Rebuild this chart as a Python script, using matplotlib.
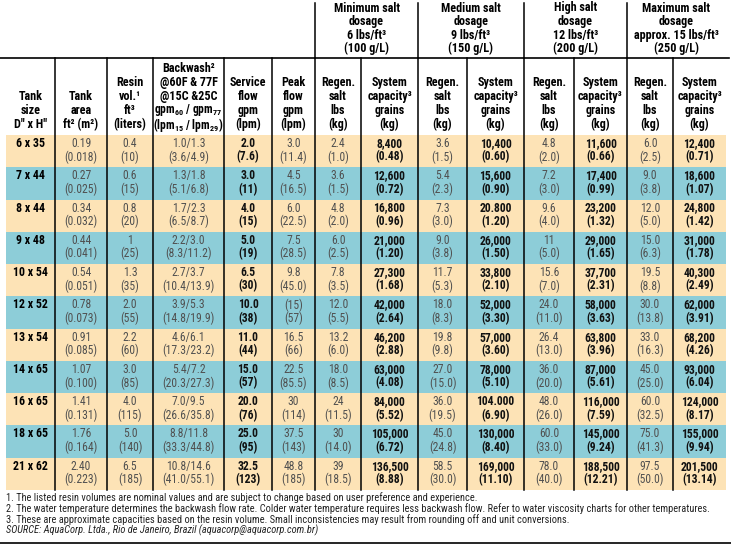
import matplotlib
matplotlib.use('Agg')
import matplotlib.pyplot as plt
from matplotlib import font_manager

# -- pick a condensed family that has a bold face
fl = font_manager.fontManager.ttflist
wanted = ['Roboto Condensed', 'Archivo Narrow', 'PT Sans Narrow', 'Pragati Narrow',
          'Barlow Semi Condensed', 'Asap Condensed', 'Liberation Sans']
narrow = 'DejaVu Sans'
for name in wanted:
    w = [f.weight for f in fl if f.name == name]
    if any((isinstance(x, int) and x >= 600) or x == 'bold' for x in w):
        narrow = name
        break
plt.rcParams['font.family'] = [narrow, 'DejaVu Sans']
plt.rcParams['mathtext.fontset'] = 'custom'
plt.rcParams['mathtext.default'] = 'regular'

# -- data
tank_size = ['6 x 35', '7 x 44', '8 x 44', '9 x 48', '10 x 54', '12 x 52',
             '13 x 54', '14 x 65', '16 x 65', '18 x 65', '21 x 62']
tank_area = [('0.19', '(0.018)'), ('0.27', '(0.025)'), ('0.34', '(0.032)'), ('0.44', '(0.041)'),
             ('0.54', '(0.051)'), ('0.78', '(0.073)'), ('0.91', '(0.085)'), ('1.07', '(0.100)'),
             ('1.41', '(0.131)'), ('1.76', '(0.164)'), ('2.40', '(0.223)')]
resin_vol = [('0.4', '(10)'), ('0.6', '(15)'), ('0.8', '(20)'), ('1', '(25)'), ('1.3', '(35)'),
             ('2.0', '(55)'), ('2.2', '(60)'), ('3.0', '(85)'), ('4.0', '(115)'), ('5.0', '(140)'),
             ('6.5', '(185)')]
backwash = [('1.0/1.3', '(3.6/4.9)'), ('1.3/1.8', '(5.1/6.8)'), ('1.7/2.3', '(6.5/8.7)'),
            ('2.2/3.0', '(8.3/11.2)'), ('2.7/3.7', '(10.4/13.9)'), ('3.9/5.3', '(14.8/19.9)'),
            ('4.6/6.1', '(17.3/23.2)'), ('5.4/7.2', '(20.3/27.3)'), ('7.0/9.5', '(26.6/35.8)'),
            ('8.8/11.8', '(33.3/44.8)'), ('10.8/14.6', '(41.0/55.1)')]
service_flow = [('2.0', '(7.6)'), ('3.0', '(11)'), ('4.0', '(15)'), ('5.0', '(19)'), ('6.5', '(30)'),
                ('10.0', '(38)'), ('11.0', '(44)'), ('15.0', '(57)'), ('20.0', '(76)'),
                ('25.0', '(95)'), ('32.5', '(123)')]
peak_flow = [('3.0', '(11.4)'), ('4.5', '(16.5)'), ('6.0', '(22.5)'), ('7.5', '(28.5)'),
             ('9.8', '(45.0)'), ('(15)', '(57)'), ('16.5', '(66)'), ('22.5', '(85.5)'),
             ('30', '(114)'), ('37.5', '(143)'), ('48.8', '(185)')]
min_salt = [('2.4', '(1.0)'), ('3.6', '(1.5)'), ('4.8', '(2.0)'), ('6.0', '(2.5)'), ('7.8', '(3.5)'),
            ('12.0', '(5.5)'), ('13.2', '(6.0)'), ('18.0', '(8.5)'), ('24', '(11.5)'),
            ('30', '(14.0)'), ('39', '(18.5)')]
min_cap = [('8,400', '(0.48)'), ('12,600', '(0.72)'), ('16,800', '(0.96)'), ('21,000', '(1.20)'),
           ('27,300', '(1.68)'), ('42,000', '(2.64)'), ('46,200', '(2.88)'), ('63,000', '(4.08)'),
           ('84,000', '(5.52)'), ('105,000', '(6.72)'), ('136,500', '(8.88)')]
med_salt = [('3.6', '(1.5)'), ('5.4', '(2.3)'), ('7.3', '(3.0)'), ('9.0', '(3.8)'), ('11.7', '(5.3)'),
            ('18.0', '(8.3)'), ('19.8', '(9.8)'), ('27.0', '(15.0)'), ('36.0', '(19.5)'),
            ('45.0', '(24.8)'), ('58.5', '(30.0)')]
med_cap = [('10,400', '(0.60)'), ('15,600', '(0.90)'), ('20.800', '(1.20)'), ('26,000', '(1.50)'),
           ('33,800', '(2.10)'), ('52,000', '(3.30)'), ('57,000', '(3.60)'), ('78,000', '(5.10)'),
           ('104.000', '(6.90)'), ('130,000', '(8.40)'), ('169,000', '(11.10)')]
high_salt = [('4.8', '(2.0)'), ('7.2', '(3.0)'), ('9.6', '(4.0)'), ('11', '(5.0)'), ('15.6', '(7.0)'),
             ('24.0', '(11.0)'), ('26.4', '(13.0)'), ('36.0', '(20.0)'), ('48.0', '(26.0)'),
             ('60.0', '(33.0)'), ('78.0', '(40.0)')]
high_cap = [('11,600', '(0.66)'), ('17,400', '(0.99)'), ('23,200', '(1.32)'), ('29,000', '(1.65)'),
            ('37,700', '(2.31)'), ('58,000', '(3.63)'), ('63,800', '(3.96)'), ('87,000', '(5.61)'),
            ('116,000', '(7.59)'), ('145,000', '(9.24)'), ('188,500', '(12.21)')]
max_salt = [('6.0', '(2.5)'), ('9.0', '(3.8)'), ('12.0', '(5.0)'), ('15.0', '(6.3)'), ('19.5', '(8.8)'),
            ('30.0', '(13.8)'), ('33.0', '(16.3)'), ('45.0', '(25.0)'), ('60.0', '(32.5)'),
            ('75.0', '(41.3)'), ('97.5', '(50.0)')]
max_cap = [('12,400', '(0.71)'), ('18,600', '(1.07)'), ('24,800', '(1.42)'), ('31,000', '(1.78)'),
           ('40,300', '(2.49)'), ('62,000', '(3.91)'), ('68,200', '(4.26)'), ('93,000', '(6.04)'),
           ('124,000', '(8.17)'), ('155,000', '(9.94)'), ('201,500', '(13.14)')]

col_headers = [
    ['Tank', 'size', 'D" x H"'],
    ['Tank', 'area', 'ft² (m²)'],
    ['Resin', 'vol.¹', 'ft³', '(liters)'],
    ['Backwash²', '@60F & 77F', '@15C &25C', r'gpm$_{60}$ / gpm$_{77}$', r'(lpm$_{15}$ / lpm$_{29}$)'],
    ['Service', 'flow', 'gpm', '(lpm)'],
    ['Peak', 'flow', 'gpm', '(lpm)'],
    ['Regen.', 'salt', 'lbs', '(kg)'],
    ['System', 'capacity³', 'grains', '(kg)'],
] + [['Regen.', 'salt', 'lbs', '(kg)'], ['System', 'capacity³', 'grains', '(kg)']] * 3
group_headers = [
    ['Minimum salt', 'dosage', '6 lbs/ft³', '(100 g/L)'],
    ['Medium salt', 'dosage', '9 lbs/ft³', '(150 g/L)'],
    ['High salt', 'dosage', '12 lbs/ft³', '(200 g/L)'],
    ['Maximum salt', 'dosage', 'approx. 15 lbs/ft³', '(250 g/L)'],
]
footnotes = [
    '1. The listed resin volumes are nominal values and are subject to change based on user preference and experience.',
    '2. The water temperature determines the backwash flow rate. Colder water temperature requires less backwash flow. Refer to water viscosity charts for other temperatures.',
    '3. These are approximate capacities based on the resin volume. Small inconsistencies may result from rounding off and unit conversions.',
]
source = 'SOURCE: AquaCorp. Ltda., Rio de Janeiro, Brazil (aquacorp@aquacorp.com.br)'

columns = [tank_area, resin_vol, backwash, service_flow, peak_flow, min_salt, min_cap,
           med_salt, med_cap, high_salt, high_cap, max_salt, max_cap]
bold_cols = {3, 6, 8, 10, 12}

# -- layout (pixels)
W, H = 731, 548
edges = [6, 55, 107, 153, 224, 272, 315, 361, 418, 467, 524, 574, 627, 673, 726]
group_lines = [315, 418, 524, 627]
top, bottom = 135, 490
rowh = (bottom - top) / len(tank_size)
tan, teal = '#fde3b6', '#8dcdd8'
grey = '#505050'
fs = 8.4

fig = plt.figure(figsize=(W / 100, H / 100), dpi=100)
ax = fig.add_axes([0, 0, 1, 1])
ax.set_xlim(0, W)
ax.set_ylim(H, 0)
ax.axis('off')

# -- row bands
for i in range(len(tank_size)):
    y0 = top + i * rowh
    ax.add_patch(plt.Rectangle((edges[0], y0), edges[-1] - edges[0], rowh,
                               facecolor=tan if i % 2 == 0 else teal, edgecolor='none', zorder=0))

# -- lines
ax.plot([0, 729], [58, 58], color='black', lw=1.2)
for x in edges[1:-1]:
    ax.plot([x, x], [58, bottom], color='black', lw=1.1)
for x in group_lines:
    ax.plot([x, x], [3, 58], color='black', lw=1.1)
ax.plot([0, 731], [543, 543], color='black', lw=1.2)

# -- column headers, bottom-aligned
for j, lines in enumerate(col_headers):
    xc = (edges[j] + edges[j + 1]) / 2
    n = len(lines)
    for k, s in enumerate(lines):
        y = 124.5 - (n - 1 - k) * 14.0
        sub = '$' in s
        ax.text(xc, y - (1.0 if sub and k == 3 else 0), s, ha='center', va='center',
                fontsize=fs + (0.0 if sub else 0.3), fontweight='bold', color='black')

# -- group headers
for g, lines in enumerate(group_headers):
    xc = (edges[6 + 2 * g] + edges[8 + 2 * g]) / 2
    for k, s in enumerate(lines):
        ax.text(xc, 8 + k * 13.6, s, ha='center', va='center', fontsize=fs + 0.3,
                fontweight='bold', color='black')

# -- body
for i in range(len(tank_size)):
    y0 = top + i * rowh
    ax.text((edges[0] + edges[1]) / 2, y0 + 8.5, tank_size[i], ha='center', va='center',
            fontsize=fs + 0.2, fontweight='bold', color='black')
    for j, col in enumerate(columns):
        xc = (edges[j + 1] + edges[j + 2]) / 2
        b = j in bold_cols
        for k, s in enumerate(col[i]):
            ax.text(xc, y0 + 8.5 + k * 13.4, s, ha='center', va='center', fontsize=fs,
                    fontweight='bold' if b else 'normal', color='#111111' if b else grey)

# -- footnotes
for k, s in enumerate(footnotes):
    ax.text(6, 498 + k * 10.8, s, ha='left', va='center', fontsize=7.5, color='#222222')
ax.text(6, 530.5, source, ha='left', va='center', fontsize=7.5, style='italic', color='#222222')

fig.savefig('out.png', dpi=100, facecolor='white')
